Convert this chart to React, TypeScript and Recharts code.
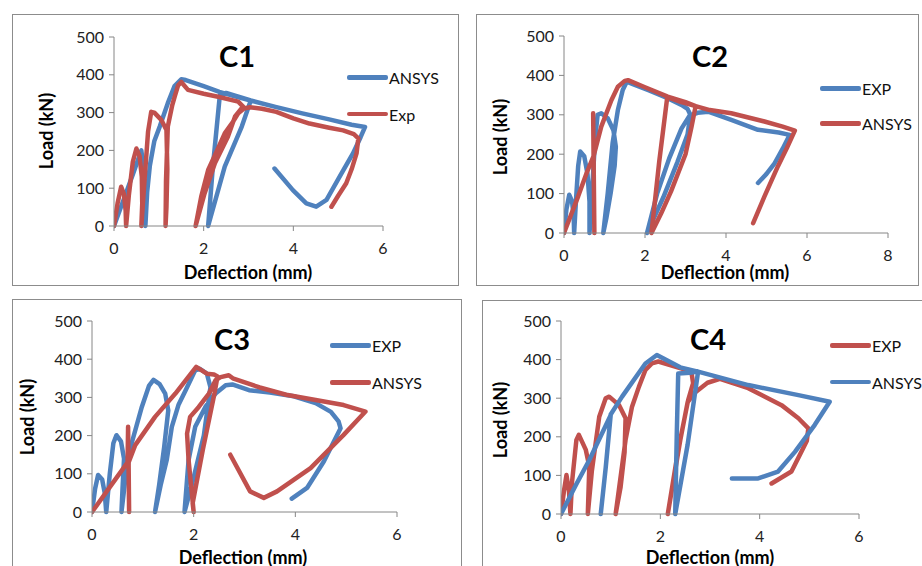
import { LineChart, Line, XAxis, YAxis } from "recharts";

const yTicks = [0, 100, 200, 300, 400, 500];
const xTicks6 = [0, 2, 4, 6];
const xTicks8 = [0, 2, 4, 6, 8];

// C1
const c1AnsysX = [0, 0.2, 0.4, 0.61, 0.66, 0.7, 0.74, 0.8, 0.9, 1.02, 1.2, 1.35, 1.5, 1.6, 2.0, 2.35, 2.7, 3.05, 2.85, 2.47, 2.1, 2.2, 2.36, 2.5, 3.05, 3.6, 4.2, 4.8, 5.3, 5.6, 5.5, 5.33, 5.03, 4.74, 4.51, 4.29, 3.99, 3.58];
const c1AnsysY = [0, 65, 130, 200, 150, 0, 90, 160, 225, 263, 325, 370, 388, 386, 370, 355, 343, 332, 263, 157, 0, 150, 345, 352, 332, 315, 298, 282, 268, 262, 235, 192, 130, 69, 51, 60, 95, 152];
const c1ExpX = [0, 0.08, 0.16, 0.22, 0.26, 0.27, 0.33, 0.42, 0.5, 0.57, 0.62, 0.63, 0.61, 0.68, 0.76, 0.83, 0.9, 1.06, 1.17, 1.19, 1.17, 1.15, 1.16, 1.2, 1.3, 1.36, 1.43, 1.5, 1.65, 2.0, 2.32, 2.77, 2.88, 2.7, 2.54, 2.25, 2.02, 1.82, 1.95, 2.1, 2.3, 2.47, 2.65, 2.77, 2.9, 3.03, 3.3, 3.62, 4.0, 4.36, 4.8, 5.11, 5.35, 5.45, 5.41, 5.3, 5.18, 5.0, 4.85];
const c1ExpY = [0, 60, 104, 85, 40, 0, 80, 170, 205, 185, 130, 60, 0, 120, 250, 302, 300, 280, 254, 150, 50, 0, 120, 263, 320, 345, 372, 381, 360, 350, 342, 329, 316, 290, 236, 166, 86, 0, 80, 148, 200, 245, 275, 298, 311, 314, 310, 302, 285, 271, 260, 253, 243, 232, 192, 150, 113, 80, 51];

// C2
const c2ExpX = [0, 0.06, 0.13, 0.2, 0.24, 0.25, 0.3, 0.35, 0.4, 0.5, 0.58, 0.63, 0.63, 0.7, 0.77, 0.83, 0.92, 1.08, 1.22, 1.28, 1.25, 1.15, 1.05, 0.97, 1.08, 1.2, 1.33, 1.45, 1.55, 1.7, 2.1, 2.56, 2.9, 3.05, 3.12, 3.05, 2.8, 2.45, 2.05, 2.3, 2.6, 2.9, 3.1, 3.3, 3.56, 4.13, 4.79, 5.3, 5.57, 5.4, 5.2, 5.0, 4.79];
const c2ExpY = [0, 60, 97, 80, 40, 0, 90, 170, 207, 195, 150, 80, 0, 120, 240, 300, 304, 291, 261, 219, 170, 100, 40, 0, 101, 228, 312, 363, 384, 378, 362, 342, 325, 315, 300, 250, 180, 90, 0, 100, 190, 265, 298, 305, 308, 287, 262, 255, 249, 214, 177, 150, 127];
const c2AnsysX = [0, 0.35, 0.55, 0.73, 0.72, 0.74, 0.75, 0.74, 0.73, 0.92, 1.17, 1.33, 1.5, 1.58, 2.0, 2.56, 3.0, 3.25, 3.15, 3.0, 2.64, 2.4, 2.16, 2.35, 2.55, 2.9, 3.25, 3.6, 4.13, 4.95, 5.4, 5.7, 5.5, 5.28, 4.95, 4.67];
const c2AnsysY = [0, 93, 150, 195, 304, 100, 0, 100, 195, 270, 337, 371, 386, 388, 370, 346, 332, 322, 270, 200, 105, 50, 0, 180, 345, 332, 322, 312, 304, 283, 270, 260, 215, 169, 93, 25];

// C3
const c3ExpX = [0, 0.06, 0.12, 0.2, 0.25, 0.28, 0.35, 0.42, 0.48, 0.57, 0.63, 0.6, 0.58, 0.65, 0.78, 0.98, 1.12, 1.21, 1.33, 1.44, 1.5, 1.42, 1.32, 1.24, 1.35, 1.47, 1.57, 1.7, 1.84, 2.03, 2.12, 2.26, 2.33, 2.2, 2.0, 1.82, 1.9, 2.03, 2.23, 2.43, 2.63, 2.76, 3.09, 3.5, 3.97, 4.4, 4.7, 4.85, 4.89, 4.56, 4.23, 3.93];
const c3ExpY = [0, 60, 97, 85, 50, 0, 100, 180, 201, 185, 140, 60, 0, 80, 180, 275, 330, 346, 335, 310, 266, 170, 70, 0, 70, 136, 223, 280, 318, 371, 375, 362, 327, 200, 90, 0, 136, 223, 275, 310, 332, 334, 319, 313, 303, 285, 262, 237, 219, 132, 63, 35];
const c3AnsysX = [0, 0.35, 0.7, 0.71, 0.73, 0.72, 0.85, 1.24, 1.64, 2.05, 2.26, 2.4, 2.47, 2.41, 2.18, 1.98, 2.0, 1.9, 1.87, 1.93, 2.1, 2.3, 2.43, 2.53, 2.69, 2.77, 3.3, 3.82, 4.4, 4.95, 5.38, 4.95, 4.3, 3.64, 3.38, 3.11, 2.72];
const c3AnsysY = [0, 65, 130, 223, 0, 130, 175, 249, 310, 380, 362, 360, 355, 311, 163, 23, 0, 136, 205, 249, 275, 310, 345, 353, 358, 350, 326, 307, 293, 280, 263, 202, 115, 54, 37, 54, 150];

// C4
const c4ExpX = [0, 0.06, 0.11, 0.16, 0.19, 0.22, 0.31, 0.36, 0.5, 0.57, 0.54, 0.62, 0.77, 0.9, 0.97, 1.17, 1.3, 1.28, 1.2, 1.1, 1.3, 1.43, 1.57, 1.7, 1.83, 1.96, 2.43, 2.63, 2.66, 2.56, 2.36, 2.15, 2.4, 2.55, 2.7, 2.95, 3.2, 3.77, 4.44, 4.78, 4.98, 4.95, 4.84, 4.64, 4.24];
const c4ExpY = [0, 60, 101, 60, 0, 80, 192, 205, 166, 123, 0, 110, 252, 300, 304, 282, 248, 160, 70, 0, 192, 278, 330, 373, 390, 395, 377, 364, 339, 295, 166, 0, 190, 290, 315, 340, 350, 326, 282, 248, 222, 190, 161, 110, 79];
const c4AnsysX = [0, 0.3, 0.57, 1.0, 0.9, 0.8, 0.9, 1.0, 1.23, 1.7, 1.93, 2.4, 2.76, 2.55, 2.3, 2.33, 2.36, 2.6, 2.76, 3.77, 4.78, 5.41, 5.11, 4.71, 4.37, 3.97, 3.44];
const c4AnsysY = [0, 75, 140, 256, 120, 0, 120, 258, 304, 390, 412, 380, 369, 180, 0, 200, 364, 366, 369, 334, 308, 291, 231, 161, 110, 92, 92];

const BLUE = "#4F81BD";
const RED = "#C0504D";
const FONT = "Lato, 'Open Sans', sans-serif";
const YW = 50;
const XH = 40;

const pts = (xs: number[], ys: number[]) => xs.map((x, i) => ({ x, y: ys[i] }));

type Series = { name: string; color: string; data: { x: number; y: number }[] };

interface PanelProps {
  frame: number[];
  plot: number[];
  xMax: number;
  xTicks: number[];
  title: string;
  titleAt: number[];
  yLabelAt: number[];
  xLabelAt: number[];
  legendAt: number[];
  series: Series[];
}

function Panel({ frame, plot, xMax, xTicks, title, titleAt, yLabelAt, xLabelAt, legendAt, series }: PanelProps) {
  const [fx, fy, fw, fh] = frame;
  const [pl, pt, pr, pb] = plot;
  const margin = {
    left: pl - fx - YW,
    top: pt - fy,
    right: fx + fw - pr,
    bottom: fy + fh - pb - XH,
  };
  const tick = { fill: "#222", fontSize: 16, fontFamily: FONT };
  return (
    <>
      <div
        style={{
          position: "absolute",
          left: fx,
          top: fy,
          width: fw,
          height: fh,
          border: "1.5px solid #8c8c8c",
          boxSizing: "border-box",
        }}
      />
      <div style={{ position: "absolute", left: fx, top: fy }}>
        <LineChart width={fw} height={fh} margin={margin}>
          <XAxis
            type="number"
            dataKey="x"
            domain={[0, xMax]}
            ticks={xTicks}
            interval={0}
            allowDataOverflow
            height={XH}
            stroke="#868686"
            tick={tick}
            tickSize={5}
            tickMargin={12}
          />
          <YAxis
            type="number"
            domain={[0, 500]}
            ticks={yTicks}
            interval={0}
            width={YW}
            stroke="#868686"
            tick={tick}
            tickSize={5}
            tickMargin={5}
          />
          {series.map((s) => (
            <Line
              key={s.name}
              data={s.data}
              dataKey="y"
              name={s.name}
              type="linear"
              stroke={s.color}
              strokeWidth={4.5}
              strokeLinejoin="round"
              strokeLinecap="round"
              dot={false}
              activeDot={false}
              isAnimationActive={false}
            />
          ))}
        </LineChart>
      </div>
      <div
        style={{
          position: "absolute",
          left: titleAt[0],
          top: titleAt[1],
          transform: "translate(-50%, -50%)",
          fontFamily: FONT,
          fontWeight: 700,
          fontSize: 29,
          color: "#000",
        }}
      >
        {title}
      </div>
      <div
        style={{
          position: "absolute",
          left: yLabelAt[0],
          top: yLabelAt[1],
          transform: "translate(-50%, -50%) rotate(-90deg)",
          fontFamily: FONT,
          fontWeight: 700,
          fontSize: 18,
          whiteSpace: "nowrap",
          color: "#000",
        }}
      >
        Load (kN)
      </div>
      <div
        style={{
          position: "absolute",
          left: xLabelAt[0],
          top: xLabelAt[1],
          transform: "translate(-50%, -50%)",
          fontFamily: FONT,
          fontWeight: 700,
          fontSize: 18,
          whiteSpace: "nowrap",
          color: "#000",
        }}
      >
        Deflection (mm)
      </div>
      {series.map((s, i) => (
        <div key={s.name}>
          <div
            style={{
              position: "absolute",
              left: legendAt[0],
              top: legendAt[1] + i * legendAt[2] - 2,
              width: 41,
              height: 4.5,
              borderRadius: 2,
              background: s.color,
            }}
          />
          <div
            style={{
              position: "absolute",
              left: legendAt[0] + 42,
              top: legendAt[1] + i * legendAt[2],
              transform: "translateY(-50%)",
              fontFamily: FONT,
              fontSize: 16,
              whiteSpace: "nowrap",
              color: "#111",
            }}
          >
            {s.name}
          </div>
        </div>
      ))}
    </>
  );
}

export default function App() {
  return (
    <div
      style={{
        position: "fixed",
        left: 0,
        top: 0,
        width: 922,
        height: 566,
        overflow: "hidden",
        background: "#fff",
      }}
    >
      <Panel
        frame={[12, 14, 447, 272]}
        plot={[114, 37, 383, 226]}
        xMax={6}
        xTicks={xTicks6}
        title="C1"
        titleAt={[237, 55]}
        yLabelAt={[46, 131]}
        xLabelAt={[248, 272]}
        legendAt={[347, 77, 36.5]}
        series={[
          { name: "ANSYS", color: BLUE, data: pts(c1AnsysX, c1AnsysY) },
          { name: "Exp", color: RED, data: pts(c1ExpX, c1ExpY) },
        ]}
      />
      <Panel
        frame={[476, 14, 443, 272]}
        plot={[564, 36, 888, 233]}
        xMax={8}
        xTicks={xTicks8}
        title="C2"
        titleAt={[710, 55]}
        yLabelAt={[500, 137]}
        xLabelAt={[725, 272]}
        legendAt={[820, 88, 35]}
        series={[
          { name: "EXP", color: BLUE, data: pts(c2ExpX, c2ExpY) },
          { name: "ANSYS", color: RED, data: pts(c2AnsysX, c2AnsysY) },
        ]}
      />
      <Panel
        frame={[12, 299, 450, 280]}
        plot={[92, 321, 397, 512]}
        xMax={6}
        xTicks={xTicks6}
        title="C3"
        titleAt={[232, 338]}
        yLabelAt={[27, 417]}
        xLabelAt={[243, 557]}
        legendAt={[330, 345, 37.3]}
        series={[
          { name: "EXP", color: BLUE, data: pts(c3ExpX, c3ExpY) },
          { name: "ANSYS", color: RED, data: pts(c3AnsysX, c3AnsysY) },
        ]}
      />
      <Panel
        frame={[482, 300, 450, 280]}
        plot={[561, 321, 859, 514]}
        xMax={6}
        xTicks={xTicks6}
        title="C4"
        titleAt={[708, 338]}
        yLabelAt={[500, 420]}
        xLabelAt={[710, 557]}
        legendAt={[830, 345, 36.7]}
        series={[
          { name: "EXP", color: RED, data: pts(c4ExpX, c4ExpY) },
          { name: "ANSYS", color: BLUE, data: pts(c4AnsysX, c4AnsysY) },
        ]}
      />
    </div>
  );
}
